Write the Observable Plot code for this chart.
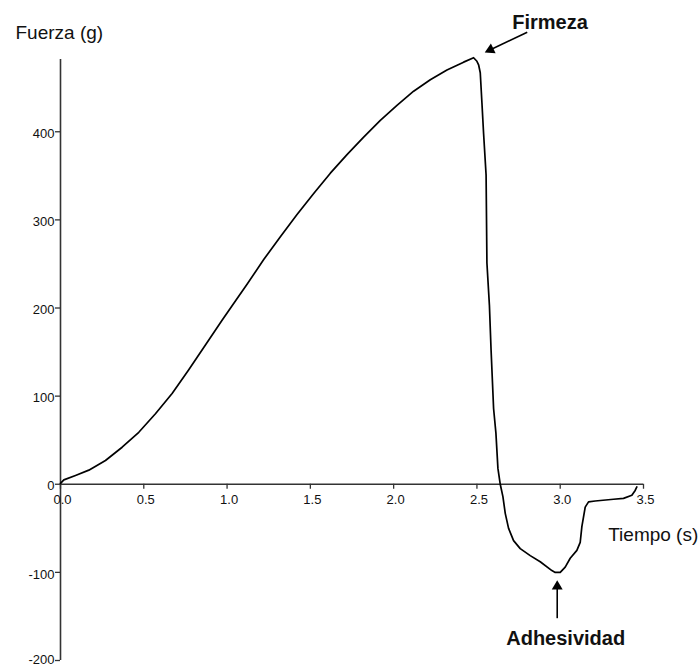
<!DOCTYPE html>
<html>
<head>
<meta charset="utf-8">
<script src="https://cdn.jsdelivr.net/npm/d3@7"></script>
<script src="https://cdn.jsdelivr.net/npm/@observablehq/plot@0.6"></script>
<style>
  html, body { margin: 0; padding: 0; background: #fff; }
</style>
</head>
<body>
<div id="chart"></div>
<script>
// ---- data ----
const time = [0, 0.02, 0.09, 0.17, 0.27, 0.37, 0.47, 0.57, 0.67, 0.77, 0.87, 0.97, 1.05, 1.12, 1.22, 1.32, 1.42, 1.52, 1.62, 1.72, 1.82, 1.92, 2.02, 2.12, 2.22, 2.32, 2.42, 2.48, 2.50, 2.51, 2.52, 2.53, 2.54, 2.555, 2.56, 2.575, 2.585, 2.60, 2.614, 2.626, 2.64, 2.656, 2.67, 2.69, 2.72, 2.76, 2.82, 2.88, 2.95, 2.97, 3.0, 3.03, 3.06, 3.10, 3.12, 3.13, 3.15, 3.17, 3.21, 3.32, 3.38, 3.43, 3.45, 3.46];
const force = [1, 5, 10, 16, 27, 42, 59, 80, 103, 130, 158, 186, 208, 227, 255, 281, 306, 330, 353, 374, 394, 413, 430, 446, 459, 470, 479, 484, 480, 476, 467, 433, 398, 351, 251, 203, 152, 86, 58, 18, 0, -14, -33, -50, -64, -73, -81, -88, -98, -100, -100, -94, -84, -75, -66, -48, -26, -20, -19, -17, -16, -12.5, -7, -3];

const xTicks = [0, 0.5, 1.0, 1.5, 2.0, 2.5, 3.0, 3.5];
const yTicks = [-200, -100, 0, 100, 200, 300, 400];

const xLabel = "Tiempo (s)";
const yLabel = "Fuerza (g)";

// annotations (data units)
const annotLabels = ["Firmeza", "Adhesividad"];
const annotTextX = [2.712, 2.676];
const annotTextY = [524, -175];
const arrowTailX = [2.802, 2.982];
const arrowTailY = [513, -152];
const arrowHeadX = [2.581, 2.982];
const arrowHeadY = [493, -116];
const arrowRotate = [244.5, 0];

// ---- build ----
const W = 698, H = 668;
const mt = 59, mb = 8, ml = 60, mr = 55;
const xDom = [0, 3.5], yDom = [-200, 482];
const pxPerY = (H - mt - mb) / (yDom[1] - yDom[0]);
const pxPerX = (W - ml - mr) / (xDom[1] - xDom[0]);

const curve = time.map((t, i) => ({t, f: force[i]}));
const annots = annotLabels.map((label, i) => ({
  label, tx: annotTextX[i], ty: annotTextY[i],
  x1: arrowTailX[i], y1: arrowTailY[i], x2: arrowHeadX[i], y2: arrowHeadY[i],
  rot: arrowRotate[i]
}));

const axisColor = "#333";
const font = "'Liberation Sans', Arial, sans-serif";
const yTickText = {x: 0, y: d => d, text: d => String(d), dx: -6, textAnchor: "end", fontSize: 13, fill: "#111"};

const chart = Plot.plot({
  width: W,
  height: H,
  marginTop: mt,
  marginBottom: mb,
  marginLeft: ml,
  marginRight: mr,
  x: {domain: xDom, axis: null},
  y: {domain: yDom, axis: null},
  style: {fontFamily: font, background: "#fff", color: "#111"},
  marks: [
    // axes lines
    Plot.ruleX([0], {stroke: axisColor, strokeWidth: 1.6}),
    Plot.ruleY([0], {x1: xDom[0], x2: xDom[1], stroke: axisColor, strokeWidth: 1.6}),
    // y ticks
    Plot.ruleY(yTicks, {y: d => d, x1: -5 / pxPerX, x2: 0, stroke: axisColor, strokeWidth: 1.3}),
    Plot.text(yTicks.filter(d => d !== yDom[0]), {...yTickText, dy: 2}),
    Plot.text(yTicks.filter(d => d === yDom[0]), {...yTickText, dy: -1}),
    // x ticks
    Plot.ruleX(xTicks, {x: d => d, y1: 0, y2: -5 / pxPerY, stroke: axisColor, strokeWidth: 1.3}),
    Plot.text(xTicks, {x: d => d, y: 0, text: d => d.toFixed(1), dx: 2, dy: 16, fontSize: 13, fill: "#111"}),
    // curve
    Plot.line(curve, {x: "t", y: "f", stroke: "#000", strokeWidth: 1.7, curve: "linear"}),
    // axis labels
    Plot.text([yLabel], {frameAnchor: "top-left", dx: -45, dy: 32 - mt, lineAnchor: "middle", textAnchor: "start", fontSize: 19, letterSpacing: "1.3px", fill: "#111"}),
    Plot.text([xLabel], {x: 3.288, y: -57.3, textAnchor: "start", fontSize: 19, letterSpacing: "1.3px", fill: "#111"}),
    // annotations
    Plot.link(annots, {x1: "x1", y1: "y1", x2: "x2", y2: "y2", stroke: "#000", strokeWidth: 1.6}),
    Plot.dot(annots, {x: "x2", y: "y2", symbol: "triangle2", r: 5.2, fill: "#000", stroke: "none", rotate: "rot"}),
    Plot.text(annots, {x: "tx", y: "ty", text: "label", textAnchor: "start", fontSize: 20, fontWeight: "bold", fill: "#111"})
  ]
});

document.getElementById("chart").appendChild(chart);
</script>
</body>
</html>
